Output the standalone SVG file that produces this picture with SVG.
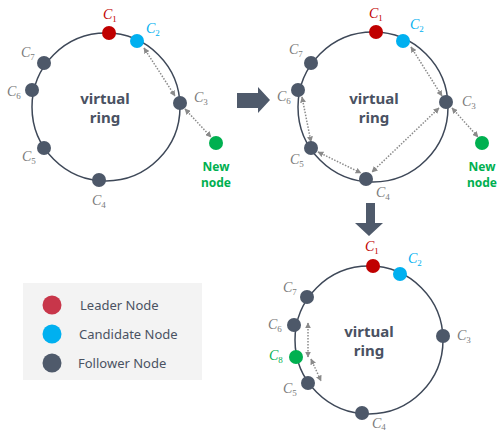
<svg xmlns="http://www.w3.org/2000/svg" width="499" height="434" viewBox="0 0 499 434">
  <style>
    .ring { fill: none; stroke: #3e4858; stroke-width: 1.5; }
    .leader { fill: #c00000; }
    .cand { fill: #00b0f0; }
    .fol { fill: #4d5869; }
    .newn { fill: #00b050; }
    .lbl { font-family: "Liberation Serif", serif; font-style: italic; font-size: 14px; fill: #7a7a7a; }
    .lbl .s { font-size: 9px; font-style: normal; }
    .lr { fill: #c00000; }
    .lb { fill: #00b0f0; }
    .lg { fill: #00b050; }
    .title { font-family: "Noto Sans", "DejaVu Sans", sans-serif; font-weight: bold; font-size: 15px; fill: #4a5262; text-anchor: middle; }
    .newt { font-family: "Noto Sans", "DejaVu Sans", sans-serif; font-weight: bold; font-size: 12px; fill: #00b050; text-anchor: middle; }
    .link { stroke: #8a8a8a; stroke-width: 1.5; stroke-dasharray: 1.5 1.5; fill: none; marker-start: url(#tip); marker-end: url(#tip); }
    .big { fill: #4f5a6b; }
    .leg { font-family: "Noto Sans", "DejaVu Sans", sans-serif; font-size: 13px; fill: #4a5262; }
  </style>
  <defs>
    <marker id="tip" viewBox="0 0 10 10" refX="9" refY="5" markerWidth="4" markerHeight="4" orient="auto-start-reverse">
      <path d="M0,0 L10,5 L0,10 z" fill="#8a8a8a"/>
    </marker>
  </defs>

  <!-- before: new node joins next to C3 -->
  <g id="ring1">
    <circle class="ring" cx="106" cy="107" r="74"/>
    <text class="title" x="105" y="104">virtual</text>
    <text class="title" x="105" y="123">ring</text>
  </g>
  <g id="connectors1">
    <line class="link" x1="144" y1="48" x2="175" y2="96"/>
    <line class="link" x1="185" y1="109" x2="211" y2="137"/>
  </g>
  <g id="r1-c1"><circle class="leader" cx="109" cy="33" r="7"/><text class="lbl lr" x="103" y="19">C<tspan class="s" dy="3">1</tspan></text></g>
  <g id="r1-c2"><circle class="cand" cx="137" cy="41" r="7"/><text class="lbl lb" x="146" y="33">C<tspan class="s" dy="3">2</tspan></text></g>
  <g id="r1-c3"><circle class="fol" cx="180" cy="103" r="7"/><text class="lbl" x="194" y="102">C<tspan class="s" dy="3">3</tspan></text></g>
  <g id="r1-c4"><circle class="fol" cx="99" cy="180" r="7"/><text class="lbl" x="92" y="205">C<tspan class="s" dy="3">4</tspan></text></g>
  <g id="r1-c5"><circle class="fol" cx="44" cy="148" r="7"/><text class="lbl" x="22" y="161">C<tspan class="s" dy="3">5</tspan></text></g>
  <g id="r1-c6"><circle class="fol" cx="32" cy="90" r="7"/><text class="lbl" x="7" y="96">C<tspan class="s" dy="3">6</tspan></text></g>
  <g id="r1-c7"><circle class="fol" cx="44" cy="63" r="7"/><text class="lbl" x="21" y="57">C<tspan class="s" dy="3">7</tspan></text></g>
  <g id="r1-new"><circle class="newn" cx="216" cy="143" r="7"/><text class="newt" x="216" y="171">New</text><text class="newt" x="216" y="187">node</text></g>

  <!-- step arrow -->
  <path class="big" d="M237,93 L258,93 L258,87 L270,100 L258,113 L258,108 L237,108 z"/>

  <!-- during: links renegotiated -->
  <g id="ring2">
    <circle class="ring" cx="373" cy="107" r="75"/>
    <text class="title" x="374" y="104">virtual</text>
    <text class="title" x="374" y="123">ring</text>
  </g>
  <g id="connectors2">
    <line class="link" x1="411" y1="47" x2="442" y2="96"/>
    <line class="link" x1="452" y1="108" x2="478" y2="137"/>
    <line class="link" x1="439" y1="108" x2="372" y2="172"/>
    <line class="link" x1="318" y1="152" x2="361" y2="173"/>
    <line class="link" x1="302" y1="97" x2="311" y2="142"/>
  </g>
  <g id="r2-c1"><circle class="leader" cx="376" cy="32" r="7"/><text class="lbl lr" x="369" y="18">C<tspan class="s" dy="3">1</tspan></text></g>
  <g id="r2-c2"><circle class="cand" cx="403" cy="41" r="7"/><text class="lbl lb" x="410" y="29">C<tspan class="s" dy="3">2</tspan></text></g>
  <g id="r2-c3"><circle class="fol" cx="446" cy="102" r="7"/><text class="lbl" x="462" y="106">C<tspan class="s" dy="3">3</tspan></text></g>
  <g id="r2-c4"><circle class="fol" cx="366" cy="179" r="7"/><text class="lbl" x="376" y="197">C<tspan class="s" dy="3">4</tspan></text></g>
  <g id="r2-c5"><circle class="fol" cx="311" cy="148" r="7"/><text class="lbl" x="290" y="164">C<tspan class="s" dy="3">5</tspan></text></g>
  <g id="r2-c6"><circle class="fol" cx="298" cy="90" r="7"/><text class="lbl" x="277" y="101">C<tspan class="s" dy="3">6</tspan></text></g>
  <g id="r2-c7"><circle class="fol" cx="311" cy="63" r="7"/><text class="lbl" x="289" y="54">C<tspan class="s" dy="3">7</tspan></text></g>
  <g id="r2-new"><circle class="newn" cx="482" cy="143" r="7"/><text class="newt" x="482" y="171">New</text><text class="newt" x="482" y="187">node</text></g>

  <!-- step arrow down -->
  <path class="big" d="M366,203 L375,203 L375,223 L383,223 L369,236 L355,223 L366,223 z"/>

  <!-- after: C8 inserted between C6 and C5 -->
  <g id="ring3">
    <circle class="ring" cx="369" cy="340" r="74"/>
    <text class="title" x="369" y="337">virtual</text>
    <text class="title" x="369" y="356">ring</text>
  </g>
  <g id="connectors3">
    <line class="link" x1="308" y1="323" x2="308" y2="357"/>
    <line class="link" x1="311" y1="359" x2="321" y2="381"/>
  </g>
  <g id="r3-c1"><circle class="leader" cx="373" cy="266" r="7"/><text class="lbl lr" x="365" y="251">C<tspan class="s" dy="3">1</tspan></text></g>
  <g id="r3-c2"><circle class="cand" cx="400" cy="274" r="7"/><text class="lbl lb" x="408" y="263">C<tspan class="s" dy="3">2</tspan></text></g>
  <g id="r3-c3"><circle class="fol" cx="443" cy="336" r="7"/><text class="lbl" x="457" y="340">C<tspan class="s" dy="3">3</tspan></text></g>
  <g id="r3-c4"><circle class="fol" cx="362" cy="413" r="7"/><text class="lbl" x="372" y="428">C<tspan class="s" dy="2">4</tspan></text></g>
  <g id="r3-c5"><circle class="fol" cx="308" cy="383" r="7"/><text class="lbl" x="283" y="393">C<tspan class="s" dy="3">5</tspan></text></g>
  <g id="r3-c6"><circle class="fol" cx="294" cy="325" r="7"/><text class="lbl" x="268" y="329">C<tspan class="s" dy="3">6</tspan></text></g>
  <g id="r3-c7"><circle class="fol" cx="307" cy="297" r="7"/><text class="lbl" x="283" y="292">C<tspan class="s" dy="3">7</tspan></text></g>
  <g id="r3-c8"><circle class="newn" cx="296" cy="357" r="7"/><text class="lbl lg" x="269" y="360">C<tspan class="s" dy="3">8</tspan></text></g>

  <!-- legend -->
  <g id="legend">
    <rect x="23" y="283" width="179" height="97" fill="#f3f3f3"/>
    <circle cx="52" cy="305" r="9.5" fill="#c8364a"/>
    <circle cx="52" cy="334" r="9.5" fill="#00b0f0"/>
    <circle cx="52" cy="363" r="9.5" fill="#4f5a6b"/>
    <text class="leg" x="80" y="310">Leader Node</text>
    <text class="leg" x="79" y="339">Candidate Node</text>
    <text class="leg" x="78" y="368">Follower Node</text>
  </g>
</svg>
